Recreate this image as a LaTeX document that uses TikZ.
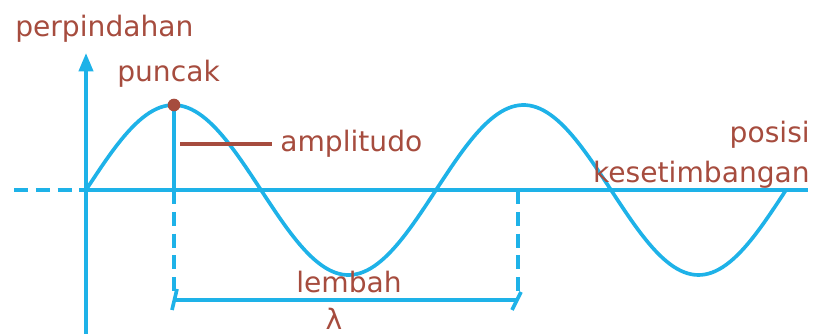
\documentclass[tikz,border=0pt]{standalone}
\usepackage{fontspec}
\setmainfont{DejaVu Sans}
\usetikzlibrary{positioning,arrows.meta,calc}
\definecolor{waveblue}{RGB}{30,178,232}
\definecolor{labelred}{RGB}{166,76,62}

\begin{document}
\begin{tikzpicture}[x=0.025cm, y=-0.025cm, font=\fontsize{20}{24}\selectfont,
  >={Triangle[length=13pt,width=10pt]},
  wave/.style={draw=waveblue, line width=2.6pt},
  guide/.style={wave, dash pattern=on 10pt off 5.5pt},
  lbl/.style={text=labelred, inner sep=0pt},
  mark line/.style={draw=labelred, line width=2.5pt}]
  \useasboundingbox (0,0) rectangle (816,334);
  % axes
  \coordinate (o)    at (86,190);
  \coordinate (ytop) at (86,53);
  \coordinate (ybot) at (86,334);
  \coordinate (xl)   at (14,190);
  \coordinate (xr)   at (808,190);
  \draw[wave, ->] (ybot) -- (ytop);
  \draw[guide] (xl) -- (o);
  \draw[wave] (o) -- (xr);
  % wave, two periods
  \draw[wave] plot[domain=86:786, samples=200] (\x, {190-85*sin((\x-86)*1.028571)});
  % crest and amplitude
  \coordinate (pk)  at (174,105);
  \coordinate (pkb) at (174,190);
  \coordinate (pkd) at (174,292);
  \coordinate (p2b) at (518,190);
  \coordinate (p2d) at (518,292);
  \draw[wave] (pk) -- (pkb);
  \draw[guide] (pkb) -- (pkd);
  \draw[guide] (p2b) -- (p2d);
  \fill[labelred] (pk) circle (4.5pt);
  \coordinate (am1) at (180,144);
  \coordinate (am2) at (272,144);
  \draw[mark line] (am1) -- (am2);
  % wavelength bracket
  \coordinate (laL) at (174,300);
  \coordinate (laR) at (518,300);
  \draw[wave] (laL) -- (laR);
  \draw[wave] ($(laL)+(-2,10)$) -- ($(laL)+(3,-11)$);
  \draw[wave] ($(laR)+(-6,10)$) -- ($(laR)+(3,-8)$);
  % labels
  \node[lbl, anchor=base west] (yl)  at (15,37)   {perpindahan};
  \node[lbl, anchor=base west] (pn)  at (117,82)  {puncak};
  \node[lbl, anchor=base west] (am)  at (280,152) {amplitudo};
  \node[lbl, anchor=base east] (ps)  at (810,143) {posisi};
  \node[lbl, anchor=base east] (ks)  at (810,183) {kesetimbangan};
  \node[lbl, anchor=base]      (lb)  at (349,292) {lembah};
  \node[lbl, anchor=base]      (lam) at (334,329) {λ};
\end{tikzpicture}
\end{document}
